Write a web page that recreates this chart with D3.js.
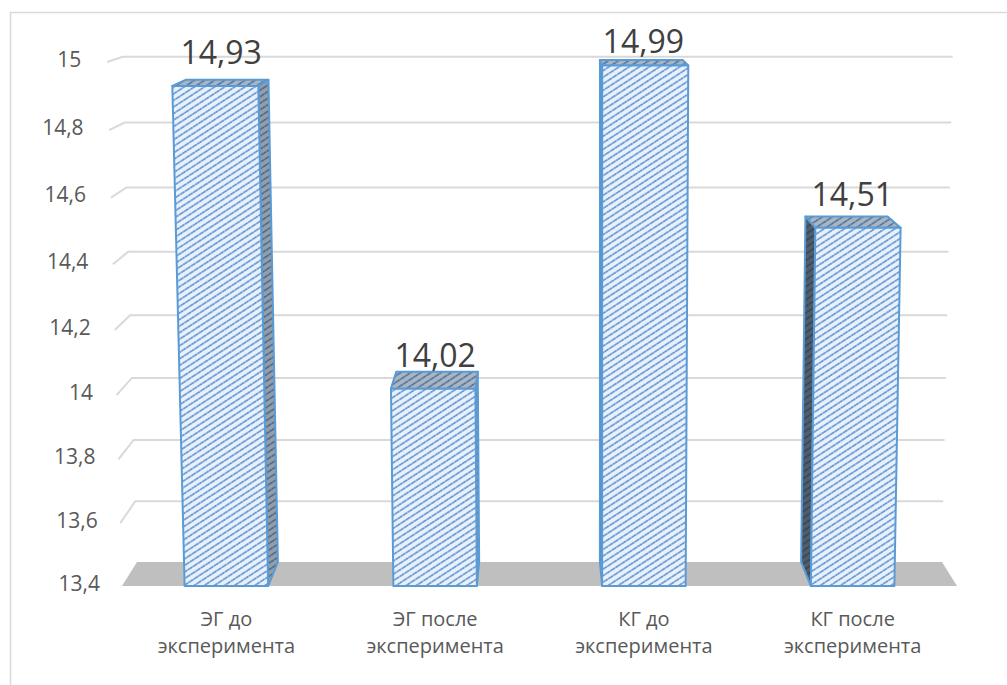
<!DOCTYPE html>
<html><head><meta charset="utf-8">
<script src="https://cdn.jsdelivr.net/npm/d3@7"></script>
<style>html,body{margin:0;padding:0;background:#fff;}svg{display:block;}</style>
</head><body>
<script>
// ---- data ----
const categories = ["ЭГ до эксперимента", "ЭГ после эксперимента", "КГ до эксперимента", "КГ после эксперимента"];
const catLine1 = ["ЭГ до", "ЭГ после", "КГ до", "КГ после"];
const catLine2 = ["эксперимента", "эксперимента", "эксперимента", "эксперимента"];
const values = [14.93, 14.02, 14.99, 14.51];
const valueLabels = ["14,93", "14,02", "14,99", "14,51"];
const yTicks = [13.4, 13.6, 13.8, 14.0, 14.2, 14.4, 14.6, 14.8, 15.0];
const yTickLabels = ["13,4", "13,6", "13,8", "14", "14,2", "14,4", "14,6", "14,8", "15"];

const W = 1007, H = 685;
const floorY = 586, plotH = 524;
const g = 0.955;          // vertical perspective
const xv = 600, kx = 0.031; // vertical convergence
const cx = 540, cy = -83, depthShrink = 0.036; // depth vanishing

const svg = d3.select("body").append("svg").attr("width", W).attr("height", H);
const defs = svg.append("defs");
const pat = defs.append("pattern").attr("id", "hatch").attr("patternUnits", "userSpaceOnUse")
  .attr("width", 6).attr("height", 5.5).attr("patternTransform", "rotate(-33)");
pat.append("rect").attr("width", 6).attr("height", 5.5).attr("fill", "#e8f1fb");
pat.append("line").attr("x1", 0).attr("x2", 6).attr("y1", 2.75).attr("y2", 2.75)
  .attr("stroke", "#6a9ad4").attr("stroke-width", 1.7).attr("stroke-dasharray", "2.6 0.6");

const x = d3.scaleBand().domain(categories).range([122, 957]).paddingInner(0.6).paddingOuter(0.3);
const t = d3.scaleLinear().domain([yTicks[0], yTicks[yTicks.length - 1]]).range([0, 1]);

function proj(X, v, Z) {
  const tt = t(v);
  const f = g * tt / (1 + (g - 1) * tt);
  const yF = floorY - plotH * f;
  const xF = xv + (X - xv) * (1 + kx * f);
  const s = 1 - depthShrink * Z;
  return [cx + (xF - cx) * s, cy + (yF - cy) * s];
}
const line = d3.line();
const poly = pts => line(pts) + "Z";

svg.append("rect").attr("width", W).attr("height", H).attr("fill", "#fff");
svg.append("rect").attr("x", 10.5).attr("y", 12.5).attr("width", 1010).attr("height", 700)
  .attr("fill", "none").attr("stroke", "#d9d9d9").attr("stroke-width", 1.5);

const vmin = yTicks[0];
const [xL, xR] = x.range();
// floor
svg.append("path").attr("d", poly([proj(xL, vmin, 0), proj(xR, vmin, 0), proj(xR, vmin, 1), proj(xL, vmin, 1)]))
  .attr("fill", "#bfbfbf");
// gridlines
const grid = svg.append("g").attr("stroke", "#d9d9d9").attr("stroke-width", 2).attr("fill", "none");
yTicks.slice(1).forEach(v => {
  grid.append("path").attr("d", line([proj(xL, v, 0), proj(xL, v, 1), proj(xR, v, 1)]));
});
// tick labels
svg.append("g").selectAll("text").data(yTicks).join("text")
  .attr("x", v => proj(xL, v, 0)[0] - 22 - 4 * t(v))
  .attr("y", v => proj(xL, v, 0)[1] - 1)
  .attr("text-anchor", "end").attr("dominant-baseline", "middle")
  .attr("font-family", "'Open Sans', sans-serif").attr("font-size", 21).attr("fill", "#595959")
  .text((v, i) => yTickLabels[i]);

// bars
const bars = svg.append("g");
values.forEach((v, i) => {
  const X0 = x(categories[i]), X1 = X0 + x.bandwidth();
  const center = (proj(X0, v, 0)[0] + proj(X1, v, 0)[0]) / 2;
  const rightSide = center < cx;
  const Xs = rightSide ? X1 : X0;
  const side = [proj(Xs, vmin, 0), proj(Xs, vmin, 1), proj(Xs, v, 1), proj(Xs, v, 0)];
  const top = [proj(X0, v, 0), proj(X1, v, 0), proj(X1, v, 1), proj(X0, v, 1)];
  const front = [proj(X0, vmin, 0), proj(X1, vmin, 0), proj(X1, v, 0), proj(X0, v, 0)];
  const faces = [[side, rightSide ? 0.42 : 0.75], [top, 0.3], [front, 0]];
  faces.forEach(([pts, shade]) => {
    bars.append("path").attr("d", poly(pts)).attr("fill", "url(#hatch)");
    if (shade > 0) bars.append("path").attr("d", poly(pts)).attr("fill", "#1f2b38").attr("fill-opacity", shade);
    bars.append("path").attr("d", poly(pts)).attr("fill", "none").attr("stroke", "#5b9bd5")
      .attr("stroke-width", 2).attr("stroke-linejoin", "round");
  });
  // data label
  const fl = proj(X0, v, 0), fr = proj(X1, v, 0), bl = proj(X0, v, 1), br = proj(X1, v, 1);
  const lx = (fl[0] + fr[0] + bl[0] + br[0]) / 4;
  const ly = Math.max(fl[1] - 22, 53);
  svg.append("text").attr("x", lx).attr("y", ly).attr("text-anchor", "middle")
    .attr("font-family", "'Open Sans', sans-serif").attr("font-size", 32).attr("fill", "#404040")
    .text(valueLabels[i]);
});

// category labels
const cat = svg.append("g").attr("font-family", "'Open Sans', sans-serif").attr("font-size", 20)
  .attr("fill", "#595959").attr("text-anchor", "middle");
categories.forEach((c, i) => {
  const cxp = x(c) + x.bandwidth() / 2;
  cat.append("text").attr("x", cxp).attr("y", 626).text(catLine1[i]);
  cat.append("text").attr("x", cxp).attr("y", 653).text(catLine2[i]);
});
</script>
</body></html>
